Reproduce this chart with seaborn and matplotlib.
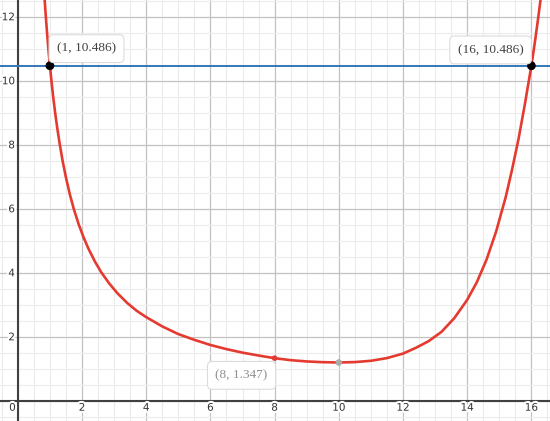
import matplotlib
matplotlib.use("Agg")
import matplotlib.pyplot as plt
import matplotlib.patheffects as pe
import seaborn as sns
import numpy as np
import pandas as pd

# curve points read /
curve_x = [0.83, 0.88, 0.92, 0.96, 1.0, 1.05, 1.1, 1.16, 1.22, 1.3, 1.4, 1.5, 1.62,
           1.75, 1.9, 2.05, 2.2, 2.4, 2.6, 2.85, 3.1, 3.4, 3.7, 4.0, 4.5, 5.0, 5.5,
           6.0, 6.5, 7.0, 7.5, 8.0, 8.5, 9.0, 9.5, 10.0, 10.5, 11.0, 11.5, 12.0,
           12.4, 12.8, 13.2, 13.6, 14.0, 14.3, 14.6, 14.9, 15.2, 15.4, 15.6, 15.8,
           16.0, 16.1, 16.2, 16.3]
curve_y = [12.63, 11.92, 11.4, 10.92, 10.486, 9.99, 9.53, 9.04, 8.6, 8.07, 7.49, 6.99,
           6.47, 5.99, 5.52, 5.12, 4.77, 4.37, 4.03, 3.68, 3.38, 3.08, 2.83, 2.63,
           2.34, 2.10, 1.92, 1.76, 1.63, 1.52, 1.43, 1.347, 1.285, 1.245, 1.222,
           1.212, 1.225, 1.265, 1.35, 1.49, 1.67, 1.88, 2.17, 2.6, 3.17, 3.72, 4.42,
           5.3, 6.38, 7.25, 8.2, 9.3, 10.486, 11.16, 11.89, 12.66]

level_y = 10.486
cross_x = [1, 16]
cross_y = [10.486, 10.486]
cross_labels = ["(1, 10.486)", "(16, 10.486)"]
mark_pt = (8, 1.347)
mark_label = "(8, 1.347)"
min_pt = (10, 1.212)

x_ticks = [0, 2, 4, 6, 8, 10, 12, 14, 16]
y_ticks = [2, 4, 6, 8, 10, 12]

sns.set_style("white")

fig = plt.figure(figsize=(5.5, 4.21), dpi=100)
ax = fig.add_axes([0, 0, 1, 1])
ax.set_xlim(-0.555, 16.58)
ax.set_ylim(-0.616, 12.54)

# grid
ax.set_xticks(np.arange(0, 17, 2))
ax.set_yticks(np.arange(0, 13, 2))
ax.set_xticks(np.arange(-0.5, 17, 0.5), minor=True)
ax.set_yticks(np.arange(-0.5, 13, 0.5), minor=True)
ax.grid(which="minor", color="#ececec", lw=0.8)
ax.grid(which="major", color="#c2c2c2", lw=0.9)
ax.tick_params(which="both", length=0, labelbottom=False, labelleft=False)
for s in ax.spines.values():
    s.set_visible(False)
ax.axhline(0, color="#404040", lw=1.5, zorder=2)
ax.axvline(0, color="#404040", lw=1.5, zorder=2)

# tick labels with white halo
halo = [pe.withStroke(linewidth=3, foreground="white")]
for t in x_ticks:
    xx = t if t != 0 else -0.17
    ax.text(xx, -0.2, str(t), ha="center", va="center", fontsize=7.5,
            color="#333333", path_effects=halo, zorder=3)
for t in y_ticks:
    ax.text(-0.09, t, str(t), ha="right", va="center", fontsize=7.5,
            color="#333333", path_effects=halo, zorder=3)

# horizontal level line
ax.axhline(level_y, color="#3477b8", lw=1.4, zorder=3)

# curve
df = pd.DataFrame({"x": curve_x, "y": curve_y})
sns.lineplot(data=df, x="x", y="y", sort=False, color="#e53a2f", lw=1.9,
             ax=ax, zorder=4)
ax.set_xlabel("")
ax.set_ylabel("")

# points
sns.scatterplot(x=cross_x, y=cross_y, color="black", s=40, ax=ax, zorder=6,
                edgecolor="none")
sns.scatterplot(x=[mark_pt[0]], y=[mark_pt[1]], color="#e53a2f", s=16, ax=ax,
                zorder=6, edgecolor="none")
sns.scatterplot(x=[min_pt[0]], y=[min_pt[1]], color="#aaaaaa", s=22, ax=ax,
                zorder=6, edgecolor="none")

# labels
box = dict(boxstyle="round,pad=0.6,rounding_size=0.35", fc="white",
           ec="#dcdcdc", lw=0.8)
ax.text(2.14, 11.02, cross_labels[0], ha="center", va="center", fontsize=9.5,
        family="Liberation Serif", color="#404040", bbox=box, zorder=7)
ax.text(14.73, 10.98, cross_labels[1], ha="center", va="center", fontsize=9.5,
        family="Liberation Serif", color="#404040", bbox=box, zorder=7)
ax.text(6.97, 0.81, mark_label, ha="center", va="center", fontsize=9.5,
        family="Liberation Serif", color="#909090", bbox=box, zorder=7)

fig.savefig("out.png", dpi=100)
